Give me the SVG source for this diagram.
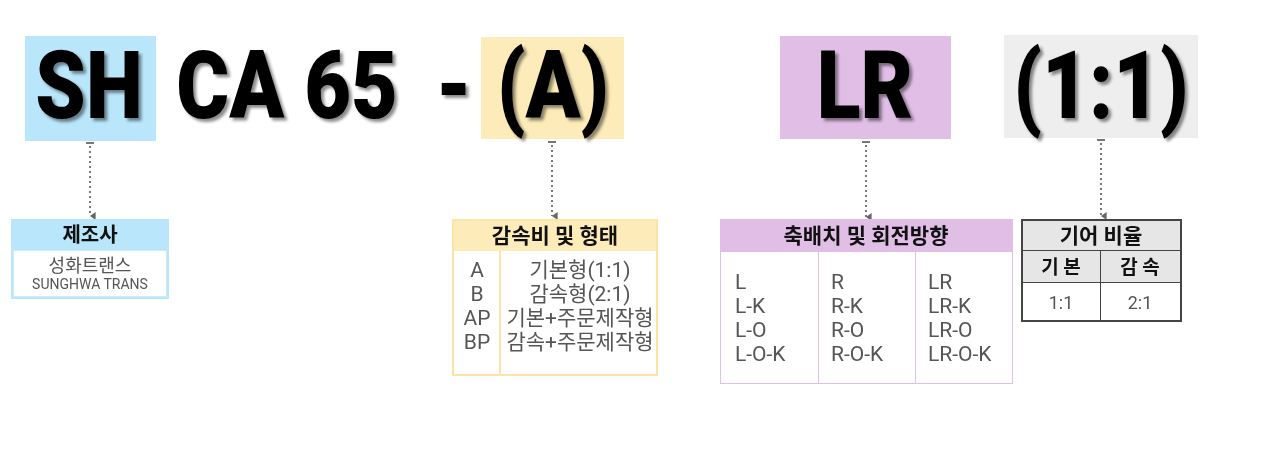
<svg xmlns="http://www.w3.org/2000/svg" width="1280" height="450" viewBox="0 0 1280 450">
<defs>
<filter id="sh" x="-10%" y="-10%" width="130%" height="130%">
<feGaussianBlur in="SourceAlpha" stdDeviation="1.5"/>
<feOffset dx="3" dy="3" result="b"/>
<feFlood flood-color="#000" flood-opacity="0.45"/>
<feComposite in2="b" operator="in"/>
<feMerge><feMergeNode/><feMergeNode in="SourceGraphic"/></feMerge>
</filter>
<marker id="ah" viewBox="0 0 10 10" refX="5" refY="9" markerWidth="8" markerHeight="8" markerUnits="userSpaceOnUse" orient="auto-start-reverse">
<path d="M0,2 L10,2 L5,9 Z" fill="#666"/>
</marker>
</defs>
<style>
.big{font-family:Roboto,"Liberation Sans",sans-serif;font-weight:900;font-size:95px;fill:#000;text-anchor:middle}
.hd{font-family:Roboto,"Noto Sans CJK KR",sans-serif;font-weight:700;font-size:21px;fill:#111;text-anchor:middle}
.tx{font-family:Roboto,"Noto Sans CJK KR",sans-serif;font-size:21px;fill:#555}
.c{text-anchor:middle}
.con{stroke:#777;stroke-width:2;stroke-dasharray:2 3;fill:none}
.tick{stroke:#777;stroke-width:2}
</style>
<rect x="25" y="36" width="131" height="105" fill="#b9e6fb"/>
<rect x="481" y="37" width="143" height="102" fill="#fdebb9"/>
<rect x="780" y="36" width="171" height="103" fill="#e0bee6"/>
<rect x="1004" y="35" width="194" height="103" fill="#eeeeee"/>
<g filter="url(#sh)">
<text class="big" transform="translate(89,118) scale(0.85,1)">SH</text>
<text class="big" transform="translate(287,118) scale(0.85,1)">CA 65</text>
<text class="big" transform="translate(454,118) scale(0.85,1)">-</text>
<text class="big" transform="translate(553,118) scale(0.85,1)">(A)</text>
<text class="big" transform="translate(865,118) scale(0.85,1)">LR</text>
<text class="big" transform="translate(1101,118) scale(0.85,1)">(1:1)</text>
</g>
<g id="connectors">
<line class="tick" x1="86" y1="143" x2="94" y2="143"/>
<line class="con" x1="90" y1="146" x2="90" y2="216" marker-end="url(#ah)"/>
<line class="tick" x1="548" y1="142" x2="556" y2="142"/>
<line class="con" x1="552" y1="145" x2="552" y2="216" marker-end="url(#ah)"/>
<line class="tick" x1="862" y1="142" x2="870" y2="142"/>
<line class="con" x1="866" y1="145" x2="866" y2="217" marker-end="url(#ah)"/>
<line class="tick" x1="1097" y1="140" x2="1105" y2="140"/>
<line class="con" x1="1101" y1="143" x2="1101" y2="216" marker-end="url(#ah)"/>
</g>
<g id="maker">
<rect x="11" y="219" width="158" height="80" fill="#b9e6fb"/>
<rect x="13.5" y="250.5" width="153" height="46" fill="#fff" stroke="#c9ecfc"/>
<text class="hd" x="90" y="242" style="font-size:20px">제조사</text>
<text class="tx c" x="90" y="272" style="font-size:18px">성화트랜스</text>
<text class="tx c" x="90" y="289" style="font-size:14px">SUNGHWA TRANS</text>
</g>
<g id="ratio">
<rect x="453" y="220" width="204" height="155" fill="#fdebb9" stroke="#fde4a6" stroke-width="2"/>
<rect x="454" y="251" width="202" height="123" fill="#fff"/>
<line x1="500" y1="251" x2="500" y2="375" stroke="#fde4a6" stroke-width="2"/>
<text class="hd" x="555" y="243">감속비 및 형태</text>
<g class="tx c">
<text x="477" y="277">A</text><text x="477" y="301">B</text><text x="477" y="325">AP</text><text x="477" y="349">BP</text>
<text x="580" y="277">기본형(1:1)</text><text x="580" y="301">감속형(2:1)</text><text x="580" y="325">기본+주문제작형</text><text x="580" y="349">감속+주문제작형</text>
</g>
</g>
<g id="shaft">
<rect x="720.5" y="219.5" width="292" height="164" fill="#fff" stroke="#e0bee6"/>
<rect x="720" y="219" width="293" height="33" fill="#e0bee6"/>
<line x1="818.5" y1="252" x2="818.5" y2="384" stroke="#e0bee6"/>
<line x1="915.5" y1="252" x2="915.5" y2="384" stroke="#e0bee6"/>
<text class="hd" x="866" y="243">축배치 및 회전방향</text>
<g class="tx">
<text x="735" y="289">L</text><text x="735" y="313">L-K</text><text x="735" y="337">L-O</text><text x="735" y="361">L-O-K</text>
<text x="831" y="289">R</text><text x="831" y="313">R-K</text><text x="831" y="337">R-O</text><text x="831" y="361">R-O-K</text>
<text x="928" y="289">LR</text><text x="928" y="313">LR-K</text><text x="928" y="337">LR-O</text><text x="928" y="361">LR-O-K</text>
</g>
</g>
<g id="gear">
<rect x="1022" y="220" width="159" height="101" fill="#fff" stroke="#444" stroke-width="2"/>
<rect x="1023" y="221" width="157" height="61" fill="#e6e6e6"/>
<line x1="1022" y1="250.5" x2="1181" y2="250.5" stroke="#444"/>
<line x1="1022" y1="282.5" x2="1181" y2="282.5" stroke="#444"/>
<line x1="1100.5" y1="250" x2="1100.5" y2="321" stroke="#444"/>
<text class="hd" x="1101" y="243">기어 비율</text>
<text class="hd" x="1061" y="274" style="font-size:19px">기 본</text>
<text class="hd" x="1140" y="274" style="font-size:19px">감 속</text>
<text class="tx c" x="1061" y="309" style="font-size:18px">1:1</text>
<text class="tx c" x="1140" y="309" style="font-size:18px">2:1</text>
</g>
</svg>
